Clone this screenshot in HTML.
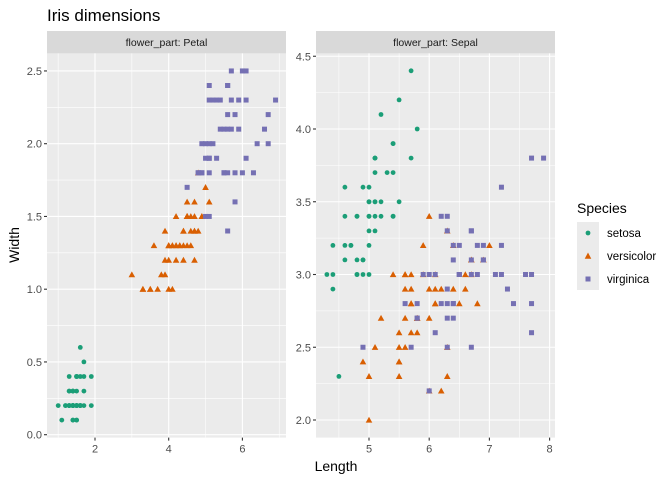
<!DOCTYPE html>
<html><head><meta charset="utf-8"><style>
body{margin:0;background:#fff;}
svg{display:block;font-family:"Liberation Sans",Arial,sans-serif;}
</style></head><body>
<svg id="s" width="672" height="480" xmlns="http://www.w3.org/2000/svg">
<rect width="672" height="480" fill="#fff"/>
<text x="47" y="21" font-size="17" fill="#000">Iris dimensions</text>
<g id="g"></g>
<text x="336" y="471" font-size="14" text-anchor="middle" fill="#000">Length</text>
<text transform="translate(19,245) rotate(-90)" font-size="14" text-anchor="middle" fill="#000">Width</text>
<text x="577" y="213" font-size="14" fill="#000">Species</text>
<rect x="577" y="222" width="22" height="68" fill="#ebebeb"/>
<circle cx="588" cy="233" r="2.4" fill="#1B9E77"/>
<polygon points="588,252.5 591.3,258.8 584.7,258.8" fill="#D95F02"/>
<rect x="585.5" y="276.5" width="5" height="5" fill="#7570B3"/>
<text x="607" y="237" font-size="11.5" fill="#000">setosa</text>
<text x="607" y="260" font-size="11.5" fill="#000">versicolor</text>
<text x="607" y="283" font-size="11.5" fill="#000">virginica</text>
</svg>
<script>
var D=`5.1,3.5,1.4,0.2;4.9,3.0,1.4,0.2;4.7,3.2,1.3,0.2;4.6,3.1,1.5,0.2;5.0,3.6,1.4,0.2;5.4,3.9,1.7,0.4;4.6,3.4,1.4,0.3;5.0,3.4,1.5,0.2;4.4,2.9,1.4,0.2;4.9,3.1,1.5,0.1;5.4,3.7,1.5,0.2;4.8,3.4,1.6,0.2;4.8,3.0,1.4,0.1;4.3,3.0,1.1,0.1;5.8,4.0,1.2,0.2;5.7,4.4,1.5,0.4;5.4,3.9,1.3,0.4;5.1,3.5,1.4,0.3;5.7,3.8,1.7,0.3;5.1,3.8,1.5,0.3;5.4,3.4,1.7,0.2;5.1,3.7,1.5,0.4;4.6,3.6,1.0,0.2;5.1,3.3,1.7,0.5;4.8,3.4,1.9,0.2;5.0,3.0,1.6,0.2;5.0,3.4,1.6,0.4;5.2,3.5,1.5,0.2;5.2,3.4,1.4,0.2;4.7,3.2,1.6,0.2;4.8,3.1,1.6,0.2;5.4,3.4,1.5,0.4;5.2,4.1,1.5,0.1;5.5,4.2,1.4,0.2;4.9,3.1,1.5,0.2;5.0,3.2,1.2,0.2;5.5,3.5,1.3,0.2;4.9,3.6,1.4,0.1;4.4,3.0,1.3,0.2;5.1,3.4,1.5,0.2;5.0,3.5,1.3,0.3;4.5,2.3,1.3,0.3;4.4,3.2,1.3,0.2;5.0,3.5,1.6,0.6;5.1,3.8,1.9,0.4;4.8,3.0,1.4,0.3;5.1,3.8,1.6,0.2;4.6,3.2,1.4,0.2;5.3,3.7,1.5,0.2;5.0,3.3,1.4,0.2|7.0,3.2,4.7,1.4;6.4,3.2,4.5,1.5;6.9,3.1,4.9,1.5;5.5,2.3,4.0,1.3;6.5,2.8,4.6,1.5;5.7,2.8,4.5,1.3;6.3,3.3,4.7,1.6;4.9,2.4,3.3,1.0;6.6,2.9,4.6,1.3;5.2,2.7,3.9,1.4;5.0,2.0,3.5,1.0;5.9,3.0,4.2,1.5;6.0,2.2,4.0,1.0;6.1,2.9,4.7,1.4;5.6,2.9,3.6,1.3;6.7,3.1,4.4,1.4;5.6,3.0,4.5,1.5;5.8,2.7,4.1,1.0;6.2,2.2,4.5,1.5;5.6,2.5,3.9,1.1;5.9,3.2,4.8,1.8;6.1,2.8,4.0,1.3;6.3,2.5,4.9,1.5;6.1,2.8,4.7,1.2;6.4,2.9,4.3,1.3;6.6,3.0,4.4,1.4;6.8,2.8,4.8,1.4;6.7,3.0,5.0,1.7;6.0,2.9,4.5,1.5;5.7,2.6,3.5,1.0;5.5,2.4,3.8,1.1;5.5,2.4,3.7,1.0;5.8,2.7,3.9,1.2;6.0,2.7,5.1,1.6;5.4,3.0,4.5,1.5;6.0,3.4,4.5,1.6;6.7,3.1,4.7,1.5;6.3,2.3,4.4,1.3;5.6,3.0,4.1,1.3;5.5,2.5,4.0,1.3;5.5,2.6,4.4,1.2;6.1,3.0,4.6,1.4;5.8,2.6,4.0,1.2;5.0,2.3,3.3,1.0;5.6,2.7,4.2,1.3;5.7,3.0,4.2,1.2;5.7,2.9,4.2,1.3;6.2,2.9,4.3,1.3;5.1,2.5,3.0,1.1;5.7,2.8,4.1,1.3|6.3,3.3,6.0,2.5;5.8,2.7,5.1,1.9;7.1,3.0,5.9,2.1;6.3,2.9,5.6,1.8;6.5,3.0,5.8,2.2;7.6,3.0,6.6,2.1;4.9,2.5,4.5,1.7;7.3,2.9,6.3,1.8;6.7,2.5,5.8,1.8;7.2,3.6,6.1,2.5;6.5,3.2,5.1,2.0;6.4,2.7,5.3,1.9;6.8,3.0,5.5,2.1;5.7,2.5,5.0,2.0;5.8,2.8,5.1,2.4;6.4,3.2,5.3,2.3;6.5,3.0,5.5,1.8;7.7,3.8,6.7,2.2;7.7,2.6,6.9,2.3;6.0,2.2,5.0,1.5;6.9,3.2,5.7,2.3;5.6,2.8,4.9,2.0;7.7,2.8,6.7,2.0;6.3,2.7,4.9,1.8;6.7,3.3,5.7,2.1;7.2,3.2,6.0,1.8;6.2,2.8,4.8,1.8;6.1,3.0,4.9,1.8;6.4,2.8,5.6,2.1;7.2,3.0,5.8,1.6;7.4,2.8,6.1,1.9;7.9,3.8,6.4,2.0;6.4,2.8,5.6,2.2;6.3,2.8,5.1,1.5;6.1,2.6,5.6,1.4;7.7,3.0,6.1,2.3;6.3,3.4,5.6,2.4;6.4,3.1,5.5,1.8;6.0,3.0,4.8,1.8;6.9,3.1,5.4,2.1;6.7,3.1,5.6,2.4;6.9,3.1,5.1,2.3;5.8,2.7,5.1,1.9;6.8,3.2,5.9,2.3;6.7,3.3,5.7,2.5;6.7,3.0,5.2,2.3;6.3,2.5,5.0,1.9;6.5,3.0,5.2,2.0;6.2,3.4,5.4,2.3;5.9,3.0,5.1,1.8`;
var h='';
function E(s){h+=s;}
var T=53.4,B=437.6;
// panels
var P=[{x0:47,x1:286,fx:function(v){return 21.3+36.85*v},fy:function(v){return 434.7-145.5*v},
 mx:[2,4,6],nx:[1,3,5,7],my:[0,0.5,1,1.5,2,2.5],ny:[0.25,0.75,1.25,1.75,2.25],lab:"flower_part: Petal",yl:function(v){return v.toFixed(1)}},
 {x0:316,x1:555,fx:function(v){return 68+60.2*v},fy:function(v){return 420-145.5*(v-2)},
 mx:[5,6,7,8],nx:[4.5,5.5,6.5,7.5],my:[2,2.5,3,3.5,4,4.5],ny:[2.25,2.75,3.25,3.75,4.25],lab:"flower_part: Sepal",yl:function(v){return v.toFixed(1)}}];
P.forEach(function(p){
 E('<rect x="'+p.x0+'" y="31" width="'+(p.x1-p.x0)+'" height="'+(T-31)+'" fill="#d9d9d9"/>');
 E('<text x="'+(p.x0+p.x1)/2+'" y="46" font-size="10.5" text-anchor="middle" fill="#1a1a1a">'+p.lab+'</text>');
 E('<rect x="'+p.x0+'" y="'+T+'" width="'+(p.x1-p.x0)+'" height="'+(B-T)+'" fill="#ebebeb"/>');
 p.nx.forEach(function(v){var x=p.fx(v);E('<line x1="'+x+'" x2="'+x+'" y1="'+T+'" y2="'+B+'" stroke="#fff" stroke-width="0.55"/>');});
 p.ny.forEach(function(v){var y=p.fy(v);E('<line y1="'+y+'" y2="'+y+'" x1="'+p.x0+'" x2="'+p.x1+'" stroke="#fff" stroke-width="0.55"/>');});
 p.mx.forEach(function(v){var x=p.fx(v);E('<line x1="'+x+'" x2="'+x+'" y1="'+T+'" y2="'+B+'" stroke="#fff" stroke-width="1.1"/>');
  E('<line x1="'+x+'" x2="'+x+'" y1="'+B+'" y2="'+(B+3)+'" stroke="#333" stroke-width="1.1"/>');
  E('<text x="'+x+'" y="'+(B+15)+'" font-size="11" text-anchor="middle" fill="#4d4d4d">'+v+'</text>');});
 p.my.forEach(function(v){var y=p.fy(v);E('<line y1="'+y+'" y2="'+y+'" x1="'+p.x0+'" x2="'+p.x1+'" stroke="#fff" stroke-width="1.1"/>');
  E('<line y1="'+y+'" y2="'+y+'" x1="'+(p.x0-3)+'" x2="'+p.x0+'" stroke="#333" stroke-width="1.1"/>');
  E('<text x="'+(p.x0-5)+'" y="'+(y+4)+'" font-size="11" text-anchor="end" fill="#4d4d4d">'+p.yl(v)+'</text>');});
});
var C=['#1B9E77','#D95F02','#7570B3'];
function pt(x,y,s){
 if(s==0)E('<circle cx="'+x.toFixed(1)+'" cy="'+y.toFixed(1)+'" r="2.4" fill="'+C[0]+'"/>');
 else if(s==1)E('<polygon points="'+x+','+(y-3.3)+' '+(x+3.3)+','+(y+2.6)+' '+(x-3.3)+','+(y+2.6)+'" fill="'+C[1]+'"/>');
 else E('<rect x="'+(x-2.5)+'" y="'+(y-2.5)+'" width="5" height="5" fill="'+C[2]+'"/>');
}
D.split('|').forEach(function(grp,s){grp.split(';').forEach(function(r){var a=r.split(',').map(Number);
 pt(P[0].fx(a[2]),P[0].fy(a[3]),s);pt(P[1].fx(a[0]),P[1].fy(a[1]),s);});});
document.getElementById('g').innerHTML=h;
</script>
</body></html>
